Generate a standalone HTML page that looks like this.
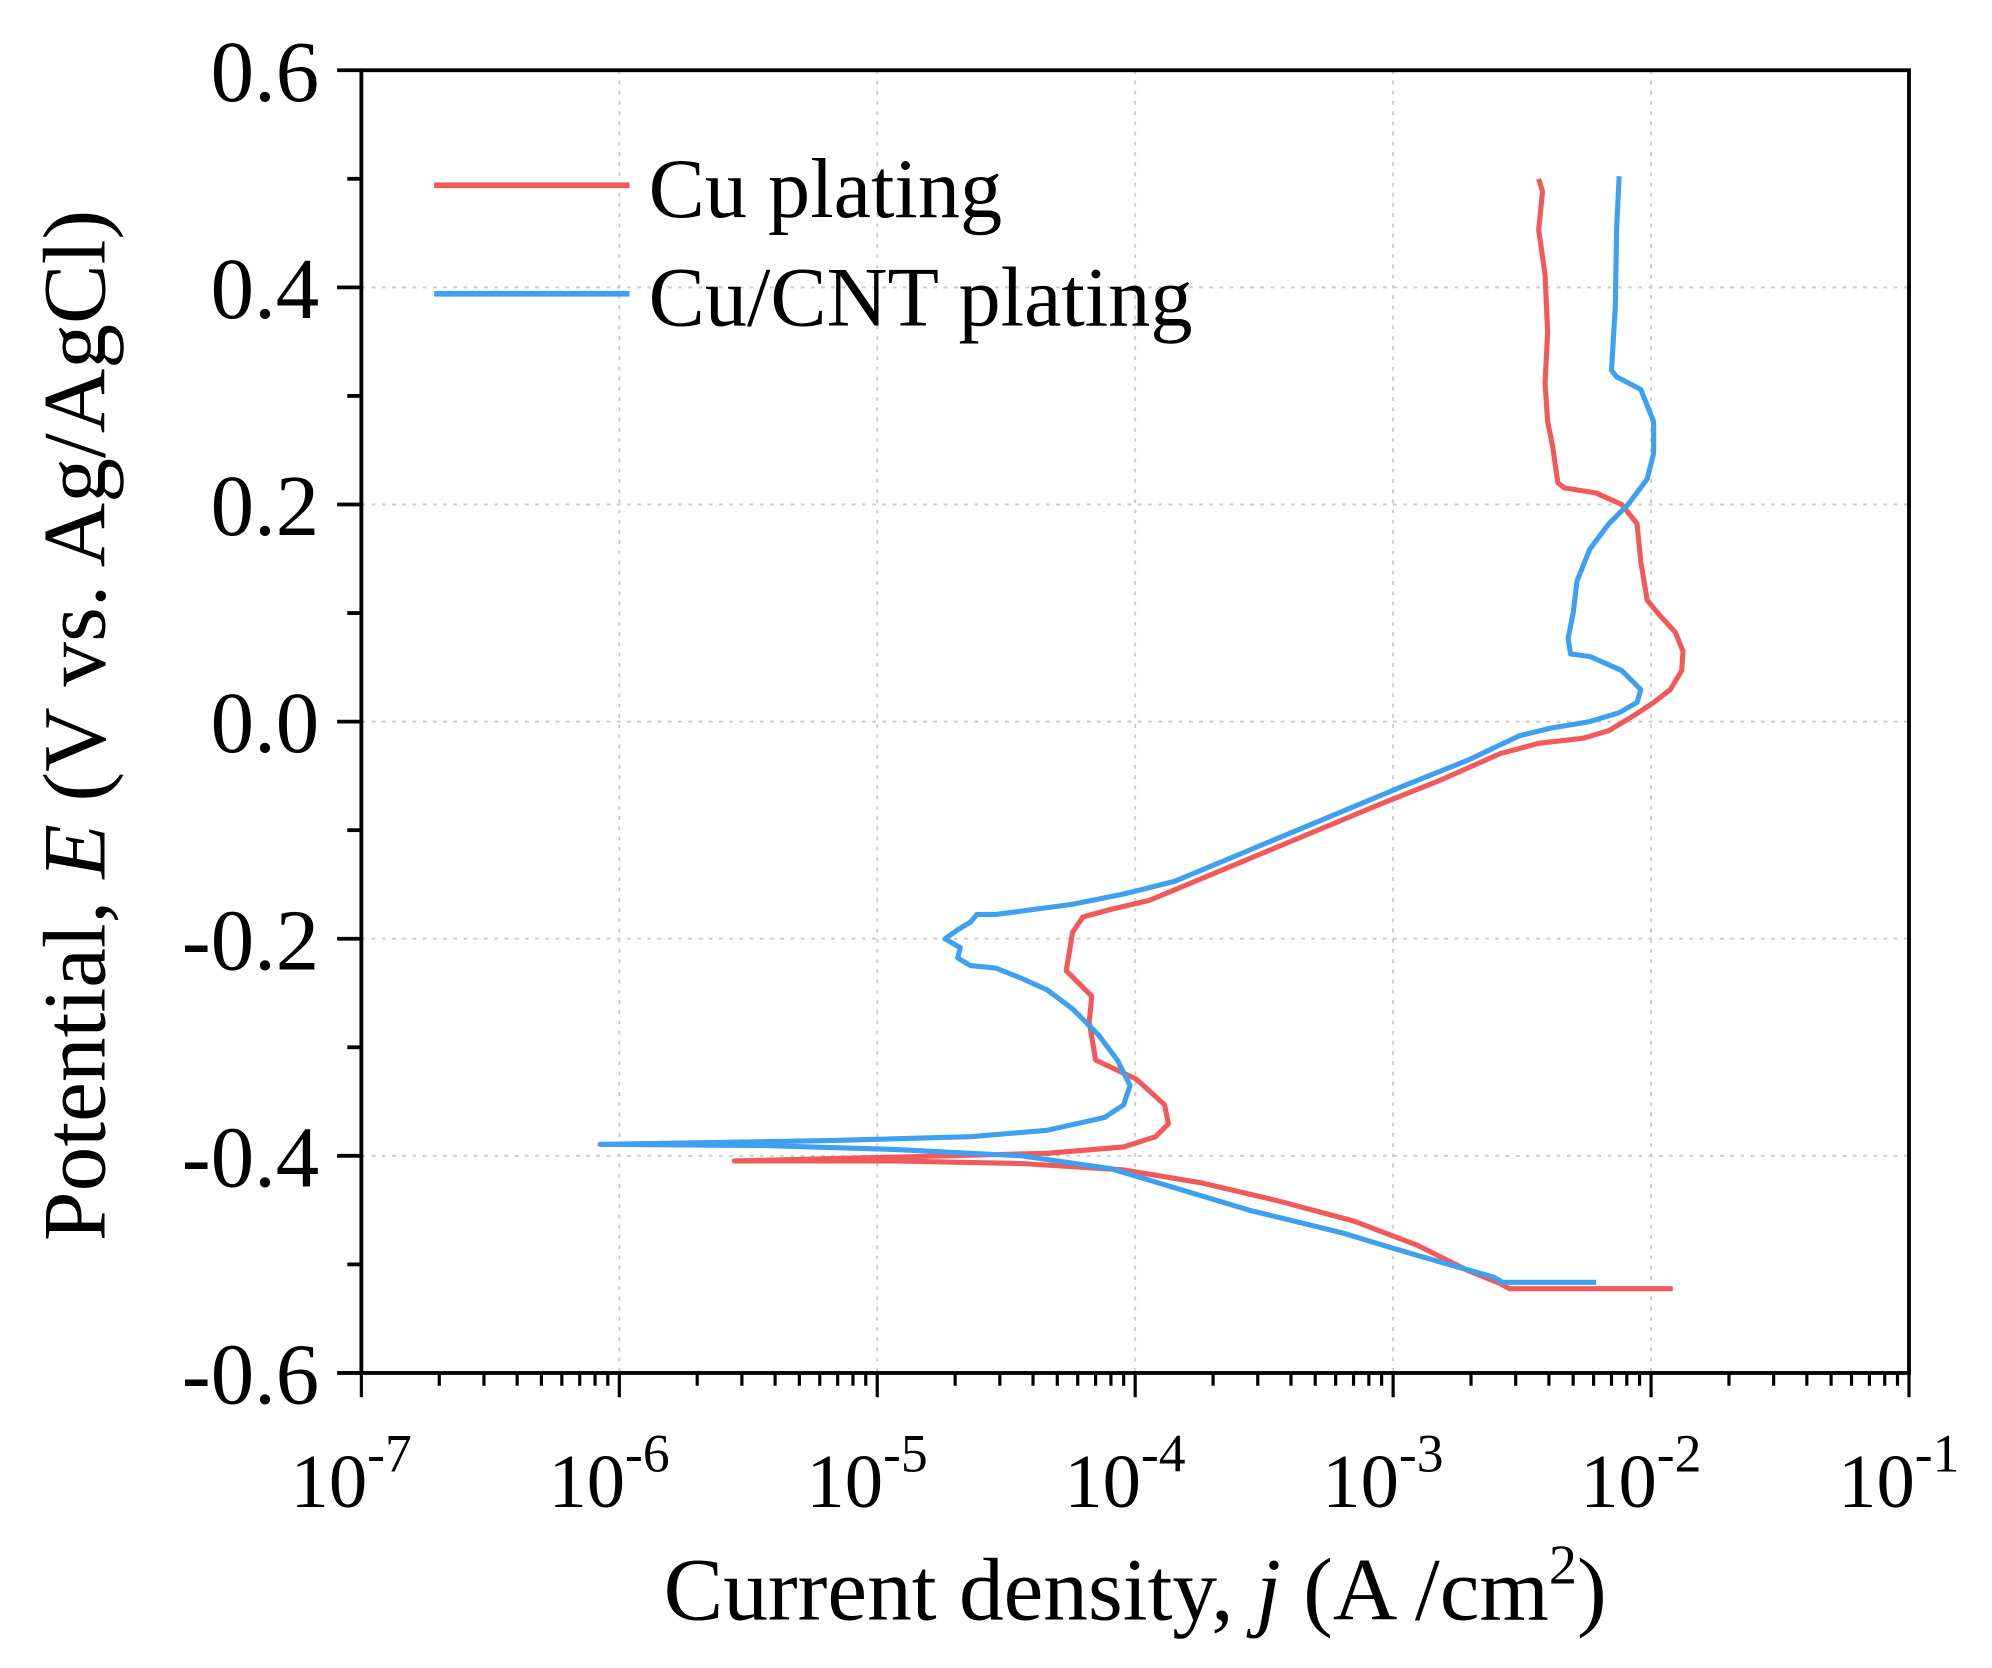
<!DOCTYPE html>
<html><head><meta charset="utf-8"><style>html,body{margin:0;padding:0;background:#fff}svg{display:block}</style></head>
<body>
<svg width="1992" height="1668" viewBox="0 0 1560 1306" preserveAspectRatio="none" xmlns="http://www.w3.org/2000/svg" font-family="'Liberation Serif',serif">
<rect width="1560" height="1306" fill="#fff"/>
<g stroke="#ccc" stroke-width="1.5" stroke-dasharray="3,5">
<line x1="485" y1="55" x2="485" y2="1075"/><line x1="687" y1="55" x2="687" y2="1075"/><line x1="889" y1="55" x2="889" y2="1075"/><line x1="1091" y1="55" x2="1091" y2="1075"/><line x1="1293" y1="55" x2="1293" y2="1075"/>
<line x1="283" y1="225" x2="1495" y2="225"/><line x1="283" y1="395" x2="1495" y2="395"/><line x1="283" y1="565" x2="1495" y2="565"/><line x1="283" y1="735" x2="1495" y2="735"/><line x1="283" y1="905" x2="1495" y2="905"/>
</g>
<g fill="none" stroke-width="4" stroke-linejoin="round">
<polyline stroke="#f05a5a" points="1205,140 1208,150 1205,180 1210,215 1212,260 1210,300 1212,330 1216,350 1220,378 1225,382 1250,386 1270,395 1282,410 1285,440 1290,470 1300,482 1312,495 1318,510 1317,525 1308,540 1295,550 1280,560 1260,572 1240,578 1205,582 1175,590 1130,610 1080,630 1020,655 960,680 900,705 870,712 848,718 840,730 835,760 855,780 853,800 858,830 890,845 912,865 915,880 905,890 880,898 820,903 700,906 575,909 700,909 800,911 880,916 940,926 1000,940 1060,956 1110,975 1150,995 1175,1005 1182,1009 1310,1009"/>
<polyline stroke="#3ea0f0" points="1268,138 1266,180 1265,240 1262,290 1266,295 1285,305 1295,330 1295,355 1290,375 1275,395 1260,410 1245,430 1235,455 1232,480 1228,500 1230,512 1245,514 1270,525 1285,540 1282,550 1268,558 1245,565 1215,570 1190,576 1150,595 1100,615 1040,640 980,665 920,690 880,700 840,708 810,712 780,716 765,716 760,722 750,728 740,735 752,742 750,750 760,756 780,758 800,766 820,775 840,790 860,810 875,830 885,850 880,865 865,875 820,885 760,890 650,893 470,896 600,897 700,900 800,905 870,915 920,930 980,948 1050,965 1110,983 1145,993 1170,1000 1175,1003 1176,1004 1250,1004"/>
</g>
<line x1="340" y1="145" x2="493" y2="145" stroke="#f05a5a" stroke-width="4.5"/>
<line x1="340" y1="230" x2="493" y2="230" stroke="#3ea0f0" stroke-width="4.5"/>
<text x="508" y="170" font-size="66">Cu plating</text>
<text x="508" y="255" font-size="66">Cu/CNT plating</text>
<rect x="283" y="55" width="1212" height="1020" fill="none" stroke="#000" stroke-width="3"/>
<g stroke="#000" stroke-width="3">
<line x1="283" y1="55" x2="264" y2="55"/><line x1="283" y1="225" x2="264" y2="225"/><line x1="283" y1="395" x2="264" y2="395"/><line x1="283" y1="565" x2="264" y2="565"/><line x1="283" y1="735" x2="264" y2="735"/><line x1="283" y1="905" x2="264" y2="905"/><line x1="283" y1="1075" x2="264" y2="1075"/>
<line x1="283" y1="140" x2="272" y2="140"/><line x1="283" y1="310" x2="272" y2="310"/><line x1="283" y1="480" x2="272" y2="480"/><line x1="283" y1="650" x2="272" y2="650"/><line x1="283" y1="820" x2="272" y2="820"/><line x1="283" y1="990" x2="272" y2="990"/>
</g>
<g font-size="68" text-anchor="end">
<text x="250" y="79">0.6</text><text x="250" y="249">0.4</text><text x="250" y="419">0.2</text><text x="250" y="589">0.0</text><text x="250" y="759">-0.2</text><text x="250" y="929">-0.4</text><text x="250" y="1099">-0.6</text>
</g>
<g font-size="60" text-anchor="middle">
<text x="275" y="1180">10<tspan font-size="42" dy="-28">-7</tspan></text>
<text x="477" y="1180">10<tspan font-size="42" dy="-28">-6</tspan></text>
<text x="679" y="1180">10<tspan font-size="42" dy="-28">-5</tspan></text>
<text x="881" y="1180">10<tspan font-size="42" dy="-28">-4</tspan></text>
<text x="1083" y="1180">10<tspan font-size="42" dy="-28">-3</tspan></text>
<text x="1285" y="1180">10<tspan font-size="42" dy="-28">-2</tspan></text>
<text x="1487" y="1180">10<tspan font-size="42" dy="-28">-1</tspan></text>
</g>
<text x="889" y="1268" font-size="70" text-anchor="middle">Current density,  <tspan font-style="italic">j</tspan> (A /cm<tspan font-size="44" dy="-28">2</tspan><tspan dy="28">)</tspan></text>
<text transform="translate(82,568) rotate(-90)" font-size="70" text-anchor="middle">Potential, <tspan font-style="italic">E</tspan> (V vs. Ag/AgCl)</text>
<g stroke="#000" stroke-width="2.5">
<line x1="283" y1="1075" x2="283" y2="1094"/><line x1="485" y1="1075" x2="485" y2="1094"/><line x1="687" y1="1075" x2="687" y2="1094"/><line x1="889" y1="1075" x2="889" y2="1094"/><line x1="1091" y1="1075" x2="1091" y2="1094"/><line x1="1293" y1="1075" x2="1293" y2="1094"/><line x1="1495" y1="1075" x2="1495" y2="1094"/>
<path d="M344,1075v10M379,1075v10M405,1075v10M424,1075v10M440,1075v10M454,1075v10M466,1075v10M476,1075v10
M546,1075v10M581,1075v10M607,1075v10M626,1075v10M642,1075v10M656,1075v10M668,1075v10M678,1075v10
M748,1075v10M783,1075v10M809,1075v10M828,1075v10M844,1075v10M858,1075v10M870,1075v10M880,1075v10
M950,1075v10M985,1075v10M1011,1075v10M1030,1075v10M1046,1075v10M1060,1075v10M1072,1075v10M1082,1075v10
M1152,1075v10M1187,1075v10M1213,1075v10M1232,1075v10M1248,1075v10M1262,1075v10M1274,1075v10M1284,1075v10
M1354,1075v10M1389,1075v10M1415,1075v10M1434,1075v10M1450,1075v10M1464,1075v10M1476,1075v10M1486,1075v10"/>
</g>
</svg>
</body></html>
